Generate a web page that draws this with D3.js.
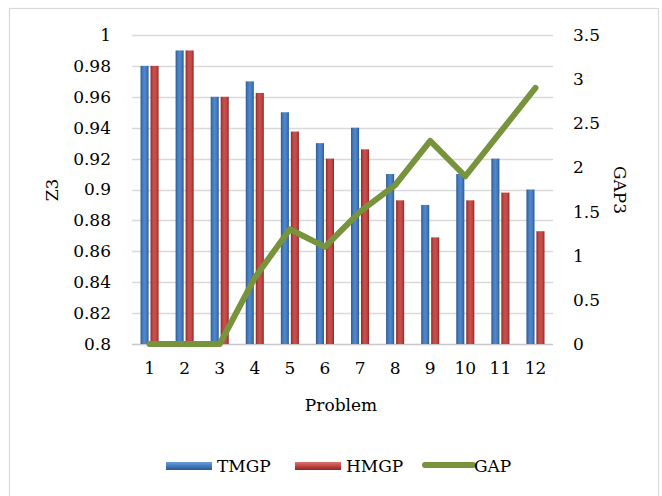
<!DOCTYPE html>
<html>
<head>
<meta charset="utf-8">
<script src="https://cdn.jsdelivr.net/npm/d3@7"></script>
<style>
  html, body { margin: 0; padding: 0; background: #fff; }
  svg { display: block; }
  text { font-family: "DejaVu Serif", "Liberation Serif", serif; fill: #000; }
</style>
</head>
<body>
<script>
// Problem instances and their results
const problems = ["1", "2", "3", "4", "5", "6", "7", "8", "9", "10", "11", "12"];
const tmgp = [0.98, 0.99, 0.96, 0.97, 0.95, 0.93, 0.94, 0.91, 0.89, 0.91, 0.92, 0.90];
const hmgp = [0.98, 0.99, 0.96, 0.9625, 0.9375, 0.92, 0.926, 0.893, 0.869, 0.893, 0.898, 0.873];
const gap = [0, 0, 0, 0.75, 1.3, 1.1, 1.5, 1.8, 2.3, 1.9, 2.4, 2.9];
const leftTicks = [0.8, 0.82, 0.84, 0.86, 0.88, 0.9, 0.92, 0.94, 0.96, 0.98, 1];
const rightTicks = [0, 0.5, 1, 1.5, 2, 2.5, 3, 3.5];
const seriesNames = ["TMGP", "HMGP", "GAP"];

const W = 662, H = 496;
const plot = { left: 132, right: 553, top: 35, bottom: 344 };

const svg = d3.select("body").append("svg").attr("width", W).attr("height", H);

// Bevelled bar fills
const defs = svg.append("defs");
function bevel(id, edge, mid, light) {
  const g = defs.append("linearGradient").attr("id", id)
    .attr("x1", "0").attr("x2", "1").attr("y1", "0").attr("y2", "0");
  g.append("stop").attr("offset", "0").attr("stop-color", edge);
  g.append("stop").attr("offset", "0.25").attr("stop-color", mid);
  g.append("stop").attr("offset", "0.5").attr("stop-color", light);
  g.append("stop").attr("offset", "0.75").attr("stop-color", mid);
  g.append("stop").attr("offset", "1").attr("stop-color", edge);
}
bevel("gBlue", "#2a5a94", "#4479bb", "#5089cc");
bevel("gRed", "#8e2624", "#bd4642", "#c9514d");

// Chart frame
svg.append("rect")
  .attr("x", 9.5).attr("y", 8.5)
  .attr("width", 649).attr("height", 490)
  .attr("fill", "#fff").attr("stroke", "#d9d9d9").attr("stroke-width", 1.2);

const x = d3.scaleBand().domain(problems).range([plot.left, plot.right]).padding(0);
const yL = d3.scaleLinear().domain([0.8, 1]).range([plot.bottom, plot.top]);
const yR = d3.scaleLinear().domain([0, 3.5]).range([plot.bottom, plot.top]);

// Horizontal gridlines
svg.append("g").selectAll("line").data(leftTicks).join("line")
  .attr("x1", plot.left).attr("x2", plot.right)
  .attr("y1", d => Math.round(yL(d)) + 0.5).attr("y2", d => Math.round(yL(d)) + 0.5)
  .attr("stroke", d => d === 0.8 ? "#c8c8c8" : "#d9d9d9")
  .attr("stroke-width", 1.5);

// Left axis labels
const leftAxis = d3.axisLeft(yL).tickValues(leftTicks).tickSize(0).tickPadding(21)
  .tickFormat(d => String(+d.toFixed(2)));
const gl = svg.append("g").attr("transform", `translate(${plot.left},0)`).call(leftAxis);
gl.select(".domain").remove();
gl.selectAll("text").attr("font-size", 17).attr("font-family", "DejaVu Serif").attr("fill", "#000");

// Right axis labels
const rightAxis = d3.axisRight(yR).tickValues(rightTicks).tickSize(0).tickPadding(20)
  .tickFormat(d => String(d));
const gr = svg.append("g").attr("transform", `translate(${plot.right},0)`).call(rightAxis);
gr.select(".domain").remove();
gr.selectAll("text").attr("font-size", 17).attr("font-family", "DejaVu Serif").attr("fill", "#000");

// Bottom axis labels
const bottomAxis = d3.axisBottom(x).tickSize(0).tickPadding(18);
const gb = svg.append("g").attr("transform", `translate(0,${plot.bottom})`).call(bottomAxis);
gb.select(".domain").remove();
gb.selectAll("text").attr("font-size", 17).attr("font-family", "DejaVu Serif").attr("fill", "#000");

// Grouped bars
const bw = x.bandwidth();
const barW = bw * 0.23;
const barGap = bw * 0.055;
const groupW = barW * 2 + barGap;
const off0 = (bw - groupW) / 2;

svg.append("g").selectAll("rect").data(tmgp).join("rect")
  .attr("x", (d, i) => x(problems[i]) + off0)
  .attr("y", d => yL(d))
  .attr("width", barW)
  .attr("height", d => yL(0.8) - yL(d))
  .attr("fill", "url(#gBlue)");

svg.append("g").selectAll("rect").data(hmgp).join("rect")
  .attr("x", (d, i) => x(problems[i]) + off0 + barW + barGap)
  .attr("y", d => yL(d))
  .attr("width", barW)
  .attr("height", d => yL(0.8) - yL(d))
  .attr("fill", "url(#gRed)");

// GAP line on the secondary axis
const line = d3.line()
  .x((d, i) => x(problems[i]) + bw / 2)
  .y(d => yR(d));
svg.append("path").datum(gap)
  .attr("d", line)
  .attr("fill", "none")
  .attr("stroke", "#77933c")
  .attr("stroke-width", 6)
  .attr("stroke-linejoin", "round")
  .attr("stroke-linecap", "round");

// Axis titles
svg.append("text").attr("x", W / 2 + 10).attr("y", 411)
  .attr("text-anchor", "middle").attr("font-size", 17).text("Problem");
svg.append("text")
  .attr("transform", "translate(58,190) rotate(-90)")
  .attr("text-anchor", "middle").attr("font-size", 17).text("Z3");
svg.append("text")
  .attr("transform", "translate(614,190) rotate(90)")
  .attr("text-anchor", "middle").attr("font-size", 17).text("GAP3");

// Legend
const legY = 466;
const legend = [
  { name: seriesNames[0], x: 166, fill: "url(#gBlue)", type: "bar" },
  { name: seriesNames[1], x: 295, fill: "url(#gRed)", type: "bar" },
  { name: seriesNames[2], x: 423, fill: "#77933c", type: "line" }
];
const lg = svg.append("g");
legend.forEach(l => {
  if (l.type === "bar") {
    const gv = defs.append("linearGradient").attr("id", "lg" + l.name)
      .attr("x1", "0").attr("x2", "0").attr("y1", "0").attr("y2", "1");
    const cols = l.name === "TMGP" ? ["#6b9ee0", "#4479bb", "#2a5a94"] : ["#e07470", "#bd4642", "#8e2624"];
    gv.append("stop").attr("offset", "0").attr("stop-color", cols[0]);
    gv.append("stop").attr("offset", "0.5").attr("stop-color", cols[1]);
    gv.append("stop").attr("offset", "1").attr("stop-color", cols[2]);
    lg.append("rect").attr("x", l.x).attr("y", legY - 4).attr("width", 46).attr("height", 8)
      .attr("fill", `url(#lg${l.name})`);
  } else {
    lg.append("line").attr("x1", l.x + 2).attr("x2", l.x + 50)
      .attr("y1", legY - 1).attr("y2", legY - 1)
      .attr("stroke", l.fill).attr("stroke-width", 6).attr("stroke-linecap", "round");
  }
  lg.append("text").attr("x", l.x + 51).attr("y", legY + 6)
    .attr("font-size", 17).text(l.name);
});
</script>
</body>
</html>
